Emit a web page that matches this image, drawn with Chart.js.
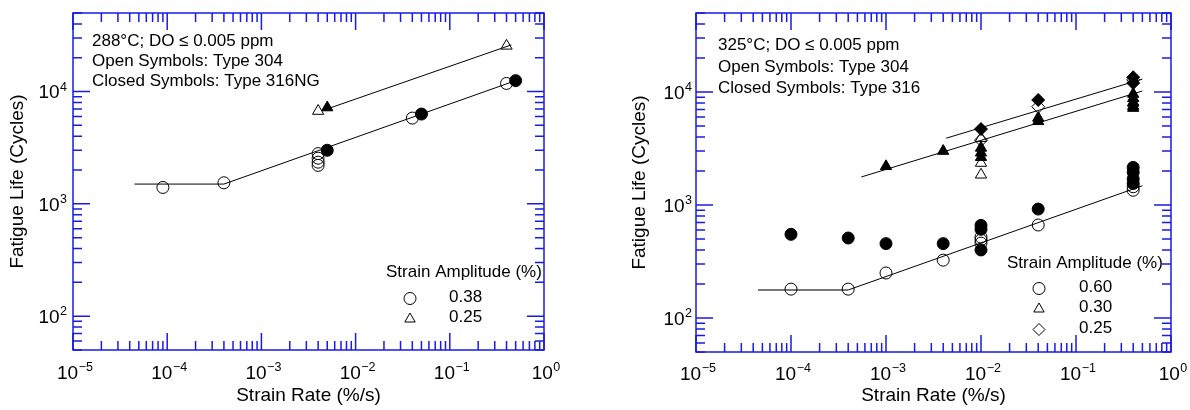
<!DOCTYPE html>
<html>
<head>
<meta charset="utf-8">
<script src="https://cdn.jsdelivr.net/npm/chart.js@4.4.1/dist/chart.umd.min.js"></script>
<style>
body { margin: 0; background: #fff; width: 1190px; height: 410px; overflow: hidden; position: relative; }
canvas { position: absolute; top: 0; }
#c288 { left: 0; }
#c325 { left: 622px; }
</style>
</head>
<body>
<canvas id="c288" width="590" height="410"></canvas>
<canvas id="c325" width="568" height="410"></canvas>
<script>
// ---- data (strain rate %/s, fatigue life cycles) ----

// 288 C panel
const rate288_o38 = [9e-5, 4e-4, 4e-3, 4e-3, 4e-3, 4e-3, 0.04, 0.4];
const life288_o38 = [1400, 1540, 2800, 2550, 2350, 2200, 5800, 11800];
const rate288_c38 = [5e-3, 0.05, 0.5];
const life288_c38 = [3000, 6300, 12500];
const rate288_o25 = [4e-3, 0.4];
const life288_o25 = [6700, 25500];
const rate288_c25 = [5e-3];
const life288_c25 = [7200];
const fitRate288_38 = [4.5e-5, 4e-4, 0.5];
const fitLife288_38 = [1500, 1500, 12500];
const fitRate288_25 = [5e-3, 0.45];
const fitLife288_25 = [7000, 26000];

// 325 C panel
const rate325_o60 = [1e-4, 4e-4, 1e-3, 4e-3, 0.01, 0.01, 0.01, 0.04, 0.4, 0.4];
const life325_o60 = [180, 180, 250, 325, 520, 490, 460, 665, 1350, 1450];
const rate325_c60 = [1e-4, 4e-4, 1e-3, 4e-3, 0.01, 0.01, 0.01, 0.04, 0.4, 0.4, 0.4, 0.4];
const life325_c60 = [550, 510, 455, 455, 660, 610, 400, 920, 2150, 1950, 1700, 1550];
const rate325_o30 = [0.01, 0.01, 0.01, 0.4];
const life325_o30 = [1850, 2350, 3900, 8000];
const rate325_c30 = [1e-3, 4e-3, 0.01, 0.01, 0.01, 0.04, 0.04, 0.4, 0.4, 0.4, 0.4, 0.4];
const life325_c30 = [2200, 3000, 3200, 2900, 2650, 5900, 5500, 9600, 8800, 8100, 7500, 7200];
const rate325_o25 = [0.01, 0.04, 0.4];
const life325_o25 = [3750, 7400, 12800];
const rate325_c25 = [0.01, 0.04, 0.4, 0.4];
const life325_c25 = [4700, 8500, 13500, 12000];
const fitRate325_60a = [4.5e-5, 4e-4];
const fitLife325_60a = [177, 177];
const fitRate325_60b = [4e-4, 0.5];
const fitLife325_60b = [177, 1480];
const fitRate325_30 = [5.5e-4, 0.5];
const fitLife325_30 = [1770, 10200];
const fitRate325_25 = [4.3e-3, 0.5];
const fitLife325_25 = [3900, 13000];

// axis ticks (labels are 10 with a raised exponent)
const xTickVals = [1e-5, 1e-4, 1e-3, 1e-2, 1e-1, 1];
const xTickExp = ['\u22125', '\u22124', '\u22123', '\u22122', '\u22121', '0'];
const yTickVals = [1e2, 1e3, 1e4];
const yTickExp = ['2', '3', '4'];

// text
const note288 = ['288°C; DO ≤ 0.005 ppm', 'Open Symbols: Type 304', 'Closed Symbols: Type 316NG'];
const note325 = ['325°C; DO ≤ 0.005 ppm', 'Open Symbols: Type 304', 'Closed Symbols: Type 316'];
const amp288 = ['0.38', '0.25'];
const amp325 = ['0.60', '0.30', '0.25'];

const FONT = '"Liberation Sans", Arial, sans-serif';
const BLUE = '#1a1ae6';

const pts = (xs, ys) => xs.map((x, i) => ({ x: x, y: ys[i] }));

function marks(label, xs, ys, style, filled) {
  return {
    label: label,
    data: pts(xs, ys),
    showLine: false,
    pointStyle: style,
    pointRadius: style == 'circle' ? 6 : 6.5,
    pointBackgroundColor: filled ? '#000' : 'rgba(0,0,0,0)',
    pointBorderColor: '#000',
    pointBorderWidth: 1
  };
}

function fitLine(xs, ys, color, w) {
  return {
    data: pts(xs, ys),
    showLine: true,
    pointRadius: 0,
    borderColor: color,
    borderWidth: w || 1
  };
}

// "10" plus a small raised exponent; cy is the middle of the "10"
function powLabel(ctx, exp, x, cy, align) {
  ctx.font = '19px ' + FONT;
  const wb = ctx.measureText('10').width;
  ctx.font = '12.5px ' + FONT;
  const we = ctx.measureText(exp).width;
  const w = wb + 0.5 + we;
  const left = align == 'center' ? x - w / 2 : x - w;
  const base = cy + 6.8;
  ctx.textAlign = 'left';
  ctx.textBaseline = 'alphabetic';
  ctx.font = '19px ' + FONT;
  ctx.fillText('10', left, base);
  ctx.font = '12.5px ' + FONT;
  ctx.fillText(exp, left + wb + 0.5, base - 7.5);
}

// blue box with inward log ticks on all four sides, plus the decade labels
const frame = {
  id: 'frame',
  afterDraw(chart, args, o) {
    const { ctx, chartArea: a, scales } = chart;
    const x = scales.x, y = scales.y;
    ctx.save();
    ctx.strokeStyle = BLUE;
    ctx.lineWidth = 1.5;
    ctx.beginPath();
    for (let k = -5; k <= 0; k++) {
      for (let m = 1; m <= 9; m++) {
        const v = m * Math.pow(10, k);
        if (v > x.max * 1.0001) break;
        const px = x.getPixelForValue(v);
        const L = m == 1 ? 17 : 9;
        ctx.moveTo(px, a.bottom); ctx.lineTo(px, a.bottom - L);
        ctx.moveTo(px, a.top); ctx.lineTo(px, a.top + L);
      }
    }
    for (let k = 1; k <= 4; k++) {
      for (let m = 1; m <= 9; m++) {
        const v = m * Math.pow(10, k);
        if (v < y.min * 0.9999 || v > y.max * 1.0001) continue;
        const py = y.getPixelForValue(v);
        const L = m == 1 ? 17 : 9;
        ctx.moveTo(a.left, py); ctx.lineTo(a.left + L, py);
        ctx.moveTo(a.right, py); ctx.lineTo(a.right - L, py);
      }
    }
    ctx.stroke();
    ctx.strokeRect(a.left, a.top, a.right - a.left, a.bottom - a.top);

    ctx.fillStyle = '#000';
    xTickVals.forEach((v, i) => powLabel(ctx, xTickExp[i], x.getPixelForValue(v) + 2, a.bottom + o.xlab, 'center'));
    yTickVals.forEach((v, i) => powLabel(ctx, yTickExp[i], a.left - o.ylab, y.getPixelForValue(v), 'right'));
    ctx.restore();
  }
};

// condition text and strain amplitude key
const notes = {
  id: 'notes',
  afterDraw(chart, args, o) {
    const { ctx, chartArea: a } = chart;
    ctx.save();
    ctx.fillStyle = '#000';
    ctx.textAlign = 'left';
    ctx.textBaseline = 'middle';
    ctx.font = '17px ' + FONT;
    o.lines.forEach((t, i) => ctx.fillText(t, a.left + o.tx, a.top + o.ty + i * o.dy));
    ctx.fillText('Strain Amplitude (%)', a.right - o.kx, a.bottom - o.ky);
    o.keys.forEach((t, i) => {
      const yy = a.bottom - o.ry + i * o.rdy;
      ctx.fillText(t, a.right - o.lx, yy - 1.5);
      ctx.strokeStyle = '#000';
      ctx.lineWidth = 1;
      ctx.fillStyle = 'rgba(0,0,0,0)';
      Chart.helpers.drawPoint(ctx, { pointStyle: o.styles[i], radius: 6, rotation: 0, borderWidth: 1 }, a.right - o.sx, yy);
      ctx.fillStyle = '#000';
    });
    ctx.restore();
  }
};

function makeScales(s) {
  return {
    x: {
      type: 'logarithmic', min: 1e-5, max: 1,
      afterBuildTicks: sc => { sc.ticks = xTickVals.map(v => ({ value: v })); },
      afterFit: sc => { sc.height = s.xh; },
      grid: { display: false },
      border: { display: false },
      ticks: { display: false },
      title: { display: true, text: 'Strain Rate (%/s)', color: '#000', font: { family: FONT, size: 19 }, padding: { top: 0, bottom: 3 } }
    },
    y: {
      type: 'logarithmic', min: 50, max: 50000,
      afterBuildTicks: sc => { sc.ticks = yTickVals.map(v => ({ value: v })); },
      afterFit: sc => { sc.width = s.yw; },
      grid: { display: false },
      border: { display: false },
      ticks: { display: false },
      title: { display: true, text: 'Fatigue Life (Cycles)', color: '#000', font: { family: FONT, size: 19 }, padding: { top: 6, bottom: 0 } }
    }
  };
}

function baseOptions(s, n) {
  return {
    responsive: false,
    animation: false,
    layout: { padding: s.pad },
    scales: makeScales(s),
    plugins: {
      legend: { display: false },
      tooltip: { enabled: false },
      notes: n,
      frame: { xlab: s.xlab, ylab: s.ylab }
    }
  };
}

new Chart(document.getElementById('c288'), {
  type: 'scatter',
  data: {
    datasets: [
      marks('316NG 0.38', rate288_c38, life288_c38, 'circle', true),
      marks('316NG 0.25', rate288_c25, life288_c25, 'triangle', true),
      marks('304 0.38', rate288_o38, life288_o38, 'circle', false),
      marks('304 0.25', rate288_o25, life288_o25, 'triangle', false),
      fitLine(fitRate288_38, fitLife288_38, '#000'),
      fitLine(fitRate288_25, fitLife288_25, '#000')
    ]
  },
  options: baseOptions(
    { pad: { top: 13, right: 46, left: 0, bottom: 0 }, xh: 60, yw: 73, xlab: 22, ylab: 6 },
    { lines: note288, tx: 19, ty: 28, dy: 20, keys: amp288, styles: ['circle', 'triangle'],
      kx: 158, ky: 77.5, ry: 51.5, rdy: 20.5, lx: 95, sx: 134 }
  ),
  plugins: [frame, notes]
});

new Chart(document.getElementById('c325'), {
  type: 'scatter',
  data: {
    datasets: [
      marks('316 0.25', rate325_c25, life325_c25, 'rectRot', true),
      marks('316 0.30', rate325_c30, life325_c30, 'triangle', true),
      marks('316 0.60', rate325_c60, life325_c60, 'circle', true),
      marks('304 0.25', rate325_o25, life325_o25, 'rectRot', false),
      marks('304 0.30', rate325_o30, life325_o30, 'triangle', false),
      marks('304 0.60', rate325_o60, life325_o60, 'circle', false),
      fitLine(fitRate325_60a, fitLife325_60a, '#777', 2),
      fitLine(fitRate325_60b, fitLife325_60b, '#000'),
      fitLine(fitRate325_30, fitLife325_30, '#000'),
      fitLine(fitRate325_25, fitLife325_25, '#000')
    ]
  },
  options: baseOptions(
    { pad: { top: 13, right: 19, left: 0, bottom: 0 }, xh: 58, yw: 74, xlab: 21, ylab: 4 },
    { lines: note325, tx: 22, ty: 32.5, dy: 21.6, keys: amp325, styles: ['circle', 'triangle', 'rectRot'],
      kx: 164, ky: 89, ry: 63.5, rdy: 20.5, lx: 92, sx: 132 }
  ),
  plugins: [frame, notes]
});
</script>
</body>
</html>
